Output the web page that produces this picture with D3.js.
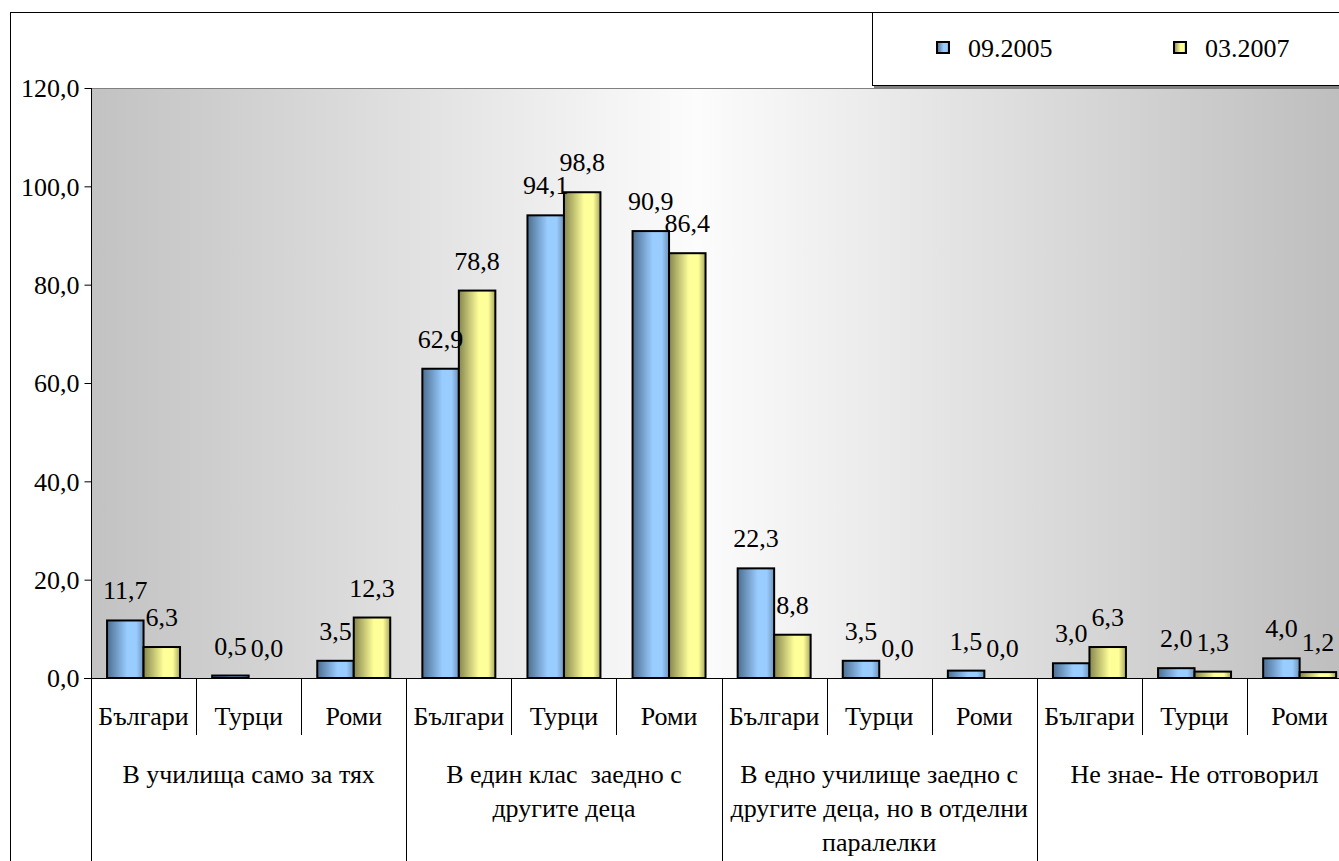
<!DOCTYPE html>
<html><head><meta charset="utf-8">
<script src="https://cdn.jsdelivr.net/npm/d3@7"></script>
<style>
html,body{margin:0;padding:0;background:#fff;overflow:hidden}
svg{display:block}
</style></head>
<body><svg id="c" width="1339" height="861"></svg>
<script>
const groupLabels = [
  ["В училища само за тях"],
  ["В един клас  заедно с", "другите деца"],
  ["В едно училище заедно с", "другите деца, но в отделни", "паралелки"],
  ["Не знае- Не отговорил"]
];
const subLabels = ["Българи", "Турци", "Роми"];
const seriesNames = ["09.2005", "03.2007"];
const values2005 = [11.7, 0.5, 3.5, 62.9, 94.1, 90.9, 22.3, 3.5, 1.5, 3.0, 2.0, 4.0];
const values2007 = [6.3, 0.0, 12.3, 78.8, 98.8, 86.4, 8.8, 0.0, 0.0, 6.3, 1.3, 1.2];
const yTicks = [0, 20, 40, 60, 80, 100, 120];

(function () {
const FONT = '"Liberation Serif", "Times New Roman", serif';
const FS = "26px";
const svg = d3.select("#c");
const defs = svg.append("defs");
const fmt = v => d3.format(".1f")(v).replace(".", ",");
const styleText = sel => sel.style("font-family", FONT).style("font-size", FS).attr("fill", "#000");

// layout
const pL = 91, pT = 88, pB = 678, step = 105.1;
const cats = d3.range(groupLabels.length * subLabels.length);
const x = d3.scaleBand().domain(cats).range([pL, pL + step * cats.length]).padding(0);
const xs = d3.scaleBand().domain(seriesNames).range([0, x.bandwidth()]).paddingInner(0).paddingOuter(0.44);
const y = d3.scaleLinear().domain([0, 120]).range([pB, pT]);

// gradients
const bg = defs.append("linearGradient").attr("id", "bg").attr("x1", 0).attr("x2", 1).attr("y1", 0).attr("y2", 0);
bg.append("stop").attr("offset", "0%").attr("stop-color", "#c2c2c2");
bg.append("stop").attr("offset", "48%").attr("stop-color", "#fcfcfc");
bg.append("stop").attr("offset", "100%").attr("stop-color", "#bdbdbd");

function barGrad(id, dark, light, edge) {
  const g = defs.append("linearGradient").attr("id", id).attr("x1", 0).attr("x2", 1).attr("y1", 0).attr("y2", 0);
  g.append("stop").attr("offset", "0%").attr("stop-color", dark);
  g.append("stop").attr("offset", "55%").attr("stop-color", light);
  g.append("stop").attr("offset", "80%").attr("stop-color", light);
  g.append("stop").attr("offset", "100%").attr("stop-color", edge);
}
barGrad("gb", "#4d6e90", "#99ccff", "#6f93b8");
barGrad("gy", "#86864e", "#ffff99", "#a6a662");
const fills = {"09.2005": "url(#gb)", "03.2007": "url(#gy)"};

// outer border
svg.append("line").attr("x1", 10.5).attr("x2", 10.5).attr("y1", 12).attr("y2", 861).attr("stroke", "#000");
svg.append("line").attr("x1", 10).attr("x2", 1339).attr("y1", 12.5).attr("y2", 12.5).attr("stroke", "#000");

// plot background
svg.append("rect").attr("x", pL).attr("y", pT).attr("width", step * cats.length).attr("height", pB - pT).attr("fill", "url(#bg)");
svg.append("line").attr("x1", pL).attr("x2", 1339).attr("y1", pT + 0.5).attr("y2", pT + 0.5).attr("stroke", "#808080");

// y axis
const yAxis = d3.axisLeft(y).tickValues(yTicks).tickSize(7).tickFormat(fmt);
const ya = svg.append("g").attr("transform", `translate(${pL + 0.5},0)`).call(yAxis);
ya.attr("font-family", null).attr("font-size", null);
ya.select(".domain").remove();
ya.selectAll(".tick line").attr("stroke", "#000");
ya.selectAll(".tick text").attr("x", -12).attr("dy", "0.34em").call(styleText);
svg.append("line").attr("x1", pL + 0.5).attr("x2", pL + 0.5).attr("y1", pT).attr("y2", 861).attr("stroke", "#000");

// bars
const data = [];
cats.forEach(i => {
  data.push({cat: i, s: seriesNames[0], v: values2005[i]});
  data.push({cat: i, s: seriesNames[1], v: values2007[i]});
});
svg.append("g").selectAll("rect").data(data.filter(d => d.v > 0)).join("rect")
  .attr("x", d => x(d.cat) + xs(d.s))
  .attr("y", d => y(d.v))
  .attr("width", xs.bandwidth())
  .attr("height", d => y(0) - y(d.v))
  .attr("fill", d => fills[d.s])
  .attr("stroke", "#000").attr("stroke-width", 2);

// value labels
svg.append("g").selectAll("text").data(data).join("text")
  .attr("x", d => x(d.cat) + xs(d.s) + xs.bandwidth() / 2)
  .attr("y", d => y(d.v) - 21)
  .attr("text-anchor", "middle")
  .call(styleText)
  .text(d => fmt(d.v));

// category axis line
svg.append("line").attr("x1", pL - 7).attr("x2", 1339).attr("y1", pB + 0.5).attr("y2", pB + 0.5).attr("stroke", "#000");

// sub-category dividers and labels
cats.forEach(i => {
  const xi = Math.round(x(i)) + 0.5;
  const isGroup = i % subLabels.length === 0;
  svg.append("line").attr("x1", xi).attr("x2", xi).attr("y1", pB).attr("y2", isGroup ? 861 : 735).attr("stroke", "#000");
  svg.append("text").attr("x", x(i) + x.bandwidth() / 2).attr("y", 725)
    .attr("text-anchor", "middle").call(styleText).text(subLabels[i % subLabels.length]);
});
const endX = Math.round(x(cats.length - 1) + x.bandwidth()) + 0.5;
svg.append("line").attr("x1", endX).attr("x2", endX).attr("y1", pB).attr("y2", 861).attr("stroke", "#000");

// group labels
groupLabels.forEach((lines, g) => {
  const cx = x(g * subLabels.length) + x.bandwidth() * subLabels.length / 2;
  const t = svg.append("text").attr("text-anchor", "middle").call(styleText).style("white-space", "pre");
  lines.forEach((ln, k) => t.append("tspan").attr("x", cx).attr("y", 783 + k * 34).text(ln));
});

// legend
const lg = svg.append("g");
lg.append("rect").attr("x", 874).attr("y", 14).attr("width", 470).attr("height", 74).attr("fill", "#808080");
lg.append("rect").attr("x", 872.5).attr("y", 12.5).attr("width", 470).attr("height", 73).attr("fill", "#fff").attr("stroke", "#000");
const lx = [937, 1174];
seriesNames.forEach((s, i) => {
  lg.append("rect").attr("x", lx[i]).attr("y", 42).attr("width", 12).attr("height", 11)
    .attr("fill", fills[s]).attr("stroke", "#000").attr("stroke-width", 2);
  lg.append("text").attr("x", lx[i] + 31).attr("y", 57).call(styleText).text(s);
});
})();
</script></body></html>
